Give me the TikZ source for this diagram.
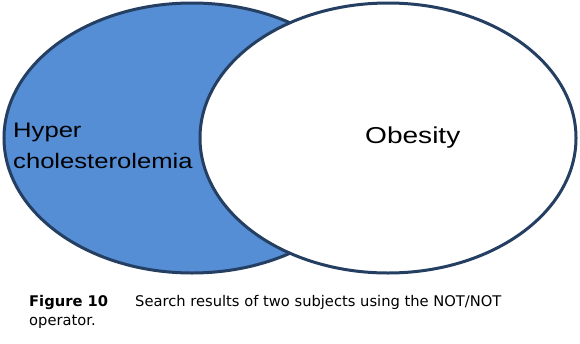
\documentclass[tikz,border=0pt]{standalone}
\usepackage{fontspec}
\usepackage{xcolor}
\usepackage{tikz}
\usetikzlibrary{positioning,shapes.geometric}
\newfontfamily\vennfont[FakeStretch=1.22]{Liberation Sans}
\newfontfamily\capfont{DejaVu Sans}
\definecolor{cazul}{HTML}{558ED5}
\definecolor{cborde}{HTML}{243F62}
\tikzset{
  conj/.style={ellipse, draw=cborde, line width=3pt, inner sep=0pt,
    minimum width=376pt, minimum height=270pt},
  etqa/.style={inner sep=0pt, align=left, font=\vennfont\fontsize{21}{31}\selectfont},
  etqb/.style={inner sep=0pt, font=\vennfont\fontsize{23}{27}\selectfont},
  pie/.style={inner sep=0pt, font=\capfont\fontsize{14.7}{18}\selectfont},
}
\begin{document}
\begin{tikzpicture}[x=1pt, y=-1pt]
  \path[fill=white, use as bounding box] (0,0) rectangle (580,343);
  \node[conj, fill=cazul] (hc) at (192,138) {};
  \node[conj, fill=white] (ob) at (388,138) {};
  \node[etqa, anchor=base west] (hct) at (13,168.3) {Hyper\\cholesterolemia};
  \node[etqb, anchor=base west] (obt) at (365,143.3) {Obesity};
  \node[pie, anchor=base west] (cap) at (29,306.7)
    {\makebox[106pt][l]{\textbf{Figure 10}}Search results of two subjects using the NOT/NOT};
  \node[pie, anchor=base west] (capb) at ([yshift=-18.3pt]cap.base west) {operator.};
\end{tikzpicture}
\end{document}
